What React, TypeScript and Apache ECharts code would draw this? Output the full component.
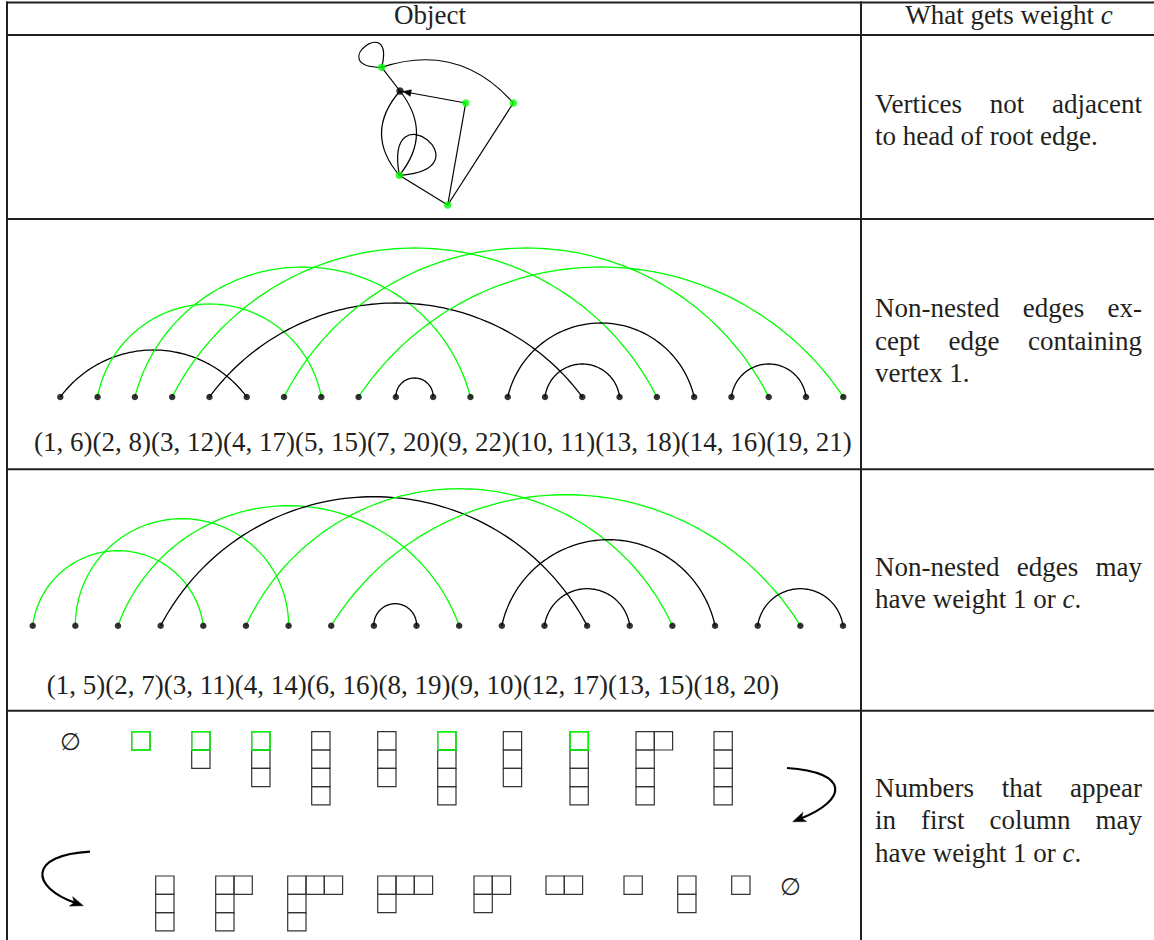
import React, { useEffect, useRef } from "react";
import * as echarts from "echarts";

const W = 1154;
const H = 940;
const GREEN = "#00ff00";
const INK = "#231f20";
const FAMILY = "Liberation Serif";
const FS = 27;

// ---------- Row 1: rooted map ----------
const mapNodeX = [381.7, 400, 465.7, 513.3, 399.3, 447.7];
const mapNodeY = [67.3, 91, 103, 103, 175.3, 205];
const mapNodeGreen = [1, 0, 1, 1, 1, 1];
const mapEdges = [
  { from: 0, to: 0, loop: [-128, 52, 58] },
  { from: 0, to: 3, bend: 0.33 },
  { from: 0, to: 1, bend: 0 },
  { from: 2, to: 1, bend: 0, arrow: true },
  { from: 2, to: 5, bend: 0 },
  { from: 3, to: 5, bend: 0 },
  { from: 4, to: 5, bend: 0 },
  { from: 1, to: 4, bend: -0.43 },
  { from: 1, to: 4, bend: 0.4 },
  { from: 4, to: 4, loop: [-52, 48, 90] },
];

// ---------- Row 2: matching on 22 points ----------
const matchingA = [[1, 6], [2, 8], [3, 12], [4, 17], [5, 15], [7, 20], [9, 22], [10, 11], [13, 18], [14, 16], [19, 21]];
const matchingAGreen = [0, 1, 1, 1, 0, 1, 1, 0, 0, 0, 0];
const matchingAHeight = [47, 93, 130, 149, 94, 149, 130, 19, 74, 33, 33];

// ---------- Row 3: matching on 20 points ----------
const matchingB = [[1, 5], [2, 7], [3, 11], [4, 14], [6, 16], [8, 19], [9, 10], [12, 17], [13, 15], [18, 20]];
const matchingBGreen = [1, 1, 1, 0, 1, 1, 0, 0, 0, 0];
const matchingBHeight = [75, 107, 120, 129, 137, 131, 22, 86, 37, 37];

// ---------- Row 4: oscillating tableau ----------
const tableauShapes = [
  [], [1], [1, 1], [1, 1, 1], [1, 1, 1, 1], [1, 1, 1], [1, 1, 1, 1], [1, 1, 1], [1, 1, 1, 1], [2, 1, 1, 1], [1, 1, 1, 1],
  [1, 1, 1], [2, 1, 1], [3, 1, 1], [3, 1], [2, 1], [2], [1], [1, 1], [1], [],
];
const tableauGreenCorner = [0, 1, 1, 1, 0, 0, 1, 0, 1, 0, 0, 0, 0, 0, 0, 0, 0, 0, 0, 0, 0];
// layout of each tableau (top-left corner)
const tableauLeft = [61.7, 131.7, 191.7, 251.7, 311.7, 377.7, 437.7, 503.3, 570, 636, 714, 155.7, 215.7, 287.7, 377.7, 474, 546, 624, 677.7, 731.7, 781.7];
const tableauTop = [731.7, 731.7, 731.7, 731.7, 731.7, 731.7, 731.7, 731.7, 731.7, 731.7, 731.7, 876, 876, 876, 876, 876, 876, 876, 876, 876, 876];
const BOX = 18.3;

// ---------- Texts ----------
const headerLeft = "Object";
const headerRight = ["What gets weight ", "$c"];
const weightTexts = [
  {
    baseline: 113,
    lines: [
      { justify: true, words: ["Vertices", "not", "adjacent"] },
      { justify: false, words: ["to head of root edge."] },
    ],
  },
  {
    baseline: 317.3,
    lines: [
      { justify: true, words: ["Non-nested", "edges", "ex-"] },
      { justify: true, words: ["cept", "edge", "containing"] },
      { justify: false, words: ["vertex 1."] },
    ],
  },
  {
    baseline: 576,
    lines: [
      { justify: true, words: ["Non-nested", "edges", "may"] },
      { justify: false, words: ["have weight 1 or ", "$c", "."] },
    ],
  },
  {
    baseline: 797,
    lines: [
      { justify: true, words: ["Numbers", "that", "appear"] },
      { justify: true, words: ["in", "first", "column", "may"] },
      { justify: false, words: ["have weight 1 or ", "$c", "."] },
    ],
  },
];

const fontCss = (italic: boolean, size = FS) => `${italic ? "italic " : ""}${size}px "${FAMILY}"`;

let measureCtx: CanvasRenderingContext2D | null = null;
function measure(t: string, italic: boolean, size = FS): number {
  if (!measureCtx) measureCtx = document.createElement("canvas").getContext("2d");
  measureCtx!.font = fontCss(italic, size);
  return measureCtx!.measureText(t).width;
}

function textEl(t: string, x: number, baseline: number, italic = false, align = "left", size = FS) {
  return {
    type: "text",
    x,
    y: baseline - 0.3375 * size,
    silent: true,
    style: {
      text: t,
      fill: INK,
      fontSize: size,
      fontFamily: FAMILY,
      fontStyle: italic ? "italic" : "normal",
      align,
      verticalAlign: "middle",
    },
  };
}

function segmentsEls(words: string[], x0: number, baseline: number) {
  const out: any[] = [];
  let x = x0;
  for (const w of words) {
    const it = w.startsWith("$");
    const t = it ? w.slice(1) : w;
    out.push(textEl(t, x, baseline, it));
    x += measure(t, it);
  }
  return out;
}

function paragraphEls() {
  const left = 875;
  const right = 1142;
  const lineGap = 32.5;
  const out: any[] = [];
  weightTexts.forEach((p) => {
    p.lines.forEach((ln, li) => {
      const base = p.baseline + li * lineGap;
      if (ln.justify) {
        const widths = ln.words.map((w) => measure(w, false));
        const total = widths.reduce((a, b) => a + b, 0);
        const gap = (right - left - total) / (ln.words.length - 1);
        let x = left;
        ln.words.forEach((w, i) => {
          out.push(textEl(w, x, base));
          x += widths[i] + gap;
        });
      } else {
        out.push(...segmentsEls(ln.words, left, base));
      }
    });
  });
  return out;
}

function tableLines() {
  const ls = { stroke: INK, lineWidth: 2 };
  const mk = (x1: number, y1: number, x2: number, y2: number) => ({
    type: "line",
    silent: true,
    shape: { x1, y1, x2, y2 },
    style: ls,
  });
  return [
    mk(6, 2.5, W, 2.5),
    mk(6, 35, W, 35),
    mk(6, 219, W, 219),
    mk(6, 469.3, W, 469.3),
    mk(6, 710.7, W, 710.7),
    mk(7, 1.5, 7, H),
    mk(861, 1.5, 861, H),
  ];
}

function curvedArrow(p0: number[], c1: number[], c2: number[], tip: number[]) {
  const dx = tip[0] - c2[0];
  const dy = tip[1] - c2[1];
  const l = Math.hypot(dx, dy);
  const ux = dx / l;
  const uy = dy / l;
  const px = -uy;
  const py = ux;
  const end = [tip[0] - 8 * ux, tip[1] - 8 * uy];
  const base = [tip[0] - 13 * ux, tip[1] - 13 * uy];
  const notch = [tip[0] - 9.5 * ux, tip[1] - 9.5 * uy];
  return [
    {
      type: "bezierCurve",
      silent: true,
      shape: { x1: p0[0], y1: p0[1], cpx1: c1[0], cpy1: c1[1], cpx2: c2[0], cpy2: c2[1], x2: end[0], y2: end[1] },
      style: { stroke: "#000", lineWidth: 2.2, fill: "none" },
    },
    {
      type: "polygon",
      silent: true,
      shape: {
        points: [tip, [base[0] + 5 * px, base[1] + 5 * py], notch, [base[0] - 5 * px, base[1] - 5 * py]],
      },
      style: { fill: "#000", stroke: "#000", lineWidth: 0.5 },
    },
  ];
}

function arcSeries(pairs: number[][], heights: number[], greens: number[], axis: number) {
  return {
    type: "custom",
    xAxisIndex: axis,
    yAxisIndex: axis,
    clip: false,
    silent: true,
    z: 2,
    data: pairs.map((p) => [p[0], 0]),
    renderItem: (params: any, api: any) => {
      const i = params.dataIndex;
      const [a, b] = pairs[i];
      const p1 = api.coord([a, 0]);
      const p2 = api.coord([b, 0]);
      const top = api.coord([(a + b) / 2, heights[i]]);
      const w = (p2[0] - p1[0]) / 2;
      const hh = p1[1] - top[1];
      const cx = (p1[0] + p2[0]) / 2;
      const R = (w * w + hh * hh) / (2 * hh);
      const cy = p1[1] - hh + R;
      let t0 = Math.atan2(p1[1] - cy, p1[0] - cx);
      const t1 = Math.atan2(p2[1] - cy, p2[0] - cx);
      if (t0 > 0) t0 -= 2 * Math.PI;
      const pts: number[][] = [];
      const n = 90;
      for (let k = 0; k <= n; k++) {
        const t = t0 + ((t1 - t0) * k) / n;
        pts.push([cx + R * Math.cos(t), cy + R * Math.sin(t)]);
      }
      return {
        type: "polyline",
        shape: { points: pts },
        style: { stroke: greens[i] ? GREEN : "#000", lineWidth: 1.3, fill: "none" },
      };
    },
  };
}

function dotSeries(pairs: number[][], axis: number) {
  return {
    type: "scatter",
    xAxisIndex: axis,
    yAxisIndex: axis,
    clip: false,
    silent: true,
    z: 3,
    symbolSize: 6.5,
    itemStyle: { color: "#000" },
    data: pairs.flatMap((p) => [[p[0], 0], [p[1], 0]]),
  };
}

function pairLabel(pairs: number[][]) {
  return pairs.map((p) => `(${p[0]}, ${p[1]})`).join("");
}

function buildOption() {
  const mapEdgeSeries = {
    type: "custom",
    xAxisIndex: 0,
    yAxisIndex: 0,
    clip: false,
    silent: true,
    z: 2,
    data: mapEdges.map((e) => [mapNodeX[e.from], mapNodeY[e.from]]),
    renderItem: (params: any, api: any) => {
      const e: any = mapEdges[params.dataIndex];
      const p = api.coord([mapNodeX[e.from], mapNodeY[e.from]]);
      const q = api.coord([mapNodeX[e.to], mapNodeY[e.to]]);
      const style = { stroke: "#000", lineWidth: 1.2, fill: "none" };
      if (e.loop) {
        const [ang, spread, size] = e.loop;
        const a1 = ((ang - spread) * Math.PI) / 180;
        const a2 = ((ang + spread) * Math.PI) / 180;
        const L = Math.abs(api.size([size, size])[0]);
        return {
          type: "bezierCurve",
          shape: {
            x1: p[0], y1: p[1], x2: p[0], y2: p[1],
            cpx1: p[0] + L * Math.cos(a1), cpy1: p[1] + L * Math.sin(a1),
            cpx2: p[0] + L * Math.cos(a2), cpy2: p[1] + L * Math.sin(a2),
          },
          style,
        };
      }
      const dx = q[0] - p[0];
      const dy = q[1] - p[1];
      const len = Math.hypot(dx, dy);
      const children: any[] = [];
      if (e.bend) {
        const nx = dy / len;
        const ny = -dx / len;
        const cpx = (p[0] + q[0]) / 2 + e.bend * len * nx;
        const cpy = (p[1] + q[1]) / 2 + e.bend * len * ny;
        children.push({ type: "bezierCurve", shape: { x1: p[0], y1: p[1], x2: q[0], y2: q[1], cpx1: cpx, cpy1: cpy }, style });
      } else {
        children.push({ type: "line", shape: { x1: p[0], y1: p[1], x2: q[0], y2: q[1] }, style });
      }
      if (e.arrow) {
        const ux = dx / len;
        const uy = dy / len;
        const tip = [q[0] - 3 * ux, q[1] - 3 * uy];
        const base = [tip[0] - 8 * ux, tip[1] - 8 * uy];
        children.push({
          type: "polygon",
          shape: { points: [tip, [base[0] - 3.3 * uy, base[1] + 3.3 * ux], [base[0] + 3.3 * uy, base[1] - 3.3 * ux]] },
          style: { fill: "#000", stroke: "#000", lineWidth: 0.5 },
        });
      }
      return { type: "group", children };
    },
  };

  const mapNodeSeries = {
    type: "scatter",
    xAxisIndex: 0,
    yAxisIndex: 0,
    clip: false,
    silent: true,
    z: 3,
    symbolSize: 7.5,
    data: mapNodeX.map((x, i) => ({ value: [x, mapNodeY[i]], itemStyle: { color: mapNodeGreen[i] ? GREEN : "#000" } })),
  };

  const tableauSeries = {
    type: "custom",
    xAxisIndex: 0,
    yAxisIndex: 0,
    clip: false,
    silent: true,
    z: 2,
    data: tableauLeft.map((x, i) => [x, tableauTop[i]]),
    renderItem: (params: any, api: any) => {
      const i = params.dataIndex;
      const shape = tableauShapes[i];
      const x0 = api.value(0);
      const y0 = api.value(1);
      const sz = api.size([BOX, BOX]);
      const sw = Math.abs(sz[0]);
      const sh = Math.abs(sz[1]);
      const children: any[] = [];
      if (shape.length === 0) {
        const c = api.coord([x0 + 9, y0 + 10.5]);
        children.push({
          type: "text",
          style: {
            text: "∅",
            x: c[0],
            y: c[1],
            fill: INK,
            fontSize: 24,
            fontFamily: "DejaVu Serif",
            align: "center",
            verticalAlign: "middle",
          },
        });
      }
      shape.forEach((len: number, r: number) => {
        for (let c = 0; c < len; c++) {
          const p = api.coord([x0 + c * BOX, y0 + r * BOX]);
          children.push({
            type: "rect",
            shape: { x: p[0], y: p[1], width: sw, height: sh },
            style: { fill: "none", stroke: "#333", lineWidth: 1.2 },
          });
        }
      });
      if (tableauGreenCorner[i]) {
        const p = api.coord([x0, y0]);
        children.push({
          type: "rect",
          shape: { x: p[0], y: p[1], width: sw, height: sh },
          style: { fill: "none", stroke: GREEN, lineWidth: 1.4 },
        });
      }
      return { type: "group", children };
    },
  };

  const rightHeaderW = headerRight.reduce((s, w) => s + measure(w.replace("$", ""), w.startsWith("$")), 0);

  const graphics: any[] = [
    ...tableLines(),
    textEl(headerLeft, 430, 24, false, "center"),
    ...segmentsEls(headerRight, 1009 - rightHeaderW / 2, 24),
    ...paragraphEls(),
    textEl(pairLabel(matchingA), 34, 451),
    textEl(pairLabel(matchingB), 46.7, 694),
    ...curvedArrow([787, 768], [850, 772], [848, 800], [792.7, 821.7]),
    ...curvedArrow([90, 851.7], [28, 855], [30, 887], [83.3, 905.7]),
  ];

  return {
    animation: false,
    backgroundColor: "#ffffff",
    grid: [
      { left: 0, top: 0, width: W, height: H },
      { left: 60.3, top: 197, width: 783, height: 200 },
      { left: 32.7, top: 425.7, width: 810.3, height: 200 },
    ],
    xAxis: [
      { type: "value", gridIndex: 0, min: 0, max: W, show: false },
      { type: "value", gridIndex: 1, min: 1, max: 22, show: false },
      { type: "value", gridIndex: 2, min: 1, max: 20, show: false },
    ],
    yAxis: [
      { type: "value", gridIndex: 0, min: 0, max: H, inverse: true, show: false },
      { type: "value", gridIndex: 1, min: 0, max: 200, show: false },
      { type: "value", gridIndex: 2, min: 0, max: 200, show: false },
    ],
    graphic: { elements: graphics },
    series: [
      mapEdgeSeries,
      mapNodeSeries,
      arcSeries(matchingA, matchingAHeight, matchingAGreen, 1),
      dotSeries(matchingA, 1),
      arcSeries(matchingB, matchingBHeight, matchingBGreen, 2),
      dotSeries(matchingB, 2),
      tableauSeries,
    ],
  };
}

export default function App() {
  const ref = useRef<HTMLDivElement>(null);
  useEffect(() => {
    document.body.style.margin = "0";
    if (!ref.current) return;
    const chart = echarts.init(ref.current, undefined, { renderer: "svg", width: W, height: H });
    chart.setOption(buildOption() as any);
    return () => chart.dispose();
  }, []);
  return <div ref={ref} style={{ width: W, height: H, background: "#fff" }} />;
}
